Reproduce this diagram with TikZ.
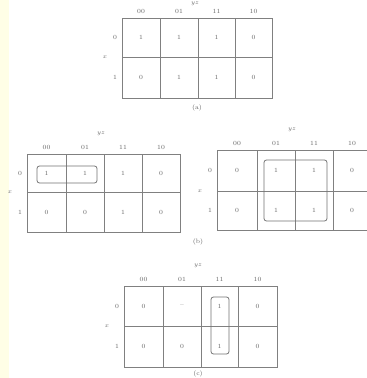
\documentclass[tikz,border=0pt]{standalone}
\begin{document}
\begin{tikzpicture}[x=1pt,y=-1pt,
  grid/.style={draw=black!50,line width=0.8pt},
  lbl/.style={text=black!60,font=\fontsize{6.3}{7}\selectfont,inner sep=0pt},
  loop/.style={draw=black!55,line width=0.8pt,rounded corners=2.5pt}]
\fill[white] (0,0) rectangle (367,378);
\fill[yellow!10] (0,0) rectangle (9,378);
\clip (0,0) rectangle (367,378);
\def\yzoff{20}
\newcommand{\kmap}[9]{%
  % #1..#5 x lines, #6 top, #7 mid, #8 bottom, #9 name
  \draw[grid] (#1,#6) rectangle (#5,#8);
  \draw[grid] (#1,#7) -- (#5,#7);
  \draw[grid] (#2,#6) -- (#2,#8);
  \draw[grid] (#3,#6) -- (#3,#8);
  \draw[grid] (#4,#6) -- (#4,#8);
  \node[lbl] (#9h0) at ({(#1+#2)/2},#6-7) {00};
  \node[lbl] (#9h1) at ({(#2+#3)/2},#6-7) {01};
  \node[lbl] (#9h2) at ({(#3+#4)/2},#6-7) {11};
  \node[lbl] (#9h3) at ({(#4+#5)/2},#6-7) {10};
  \node[lbl] (#9yz) at (#3-3,#6-\yzoff) {$yz$};
  \node[lbl] (#9r0) at (#1-7,{(#6+#7)/2}) {0};
  \node[lbl] (#9r1) at (#1-7,{(#7+#8)/2}) {1};
  \node[lbl] (#9x) at (#1-17,#7) {$x$};
}
\newcommand{\kvals}[9]{%
  \foreach \v [count=\i from 0] in {#9} {%
    \pgfmathtruncatemacro{\c}{mod(\i,4)}%
    \pgfmathtruncatemacro{\r}{int(\i/4)}%
    \pgfmathsetmacro{\xa}{{#1,#2,#3,#4,#5}[\c]}%
    \pgfmathsetmacro{\xb}{{#1,#2,#3,#4,#5}[\c+1]}%
    \pgfmathsetmacro{\ya}{{#6,#7,#8}[\r]}%
    \pgfmathsetmacro{\yb}{{#6,#7,#8}[\r+1]}%
    \node[lbl] at ({(\xa+\xb)/2},{(\ya+\yb)/2}) {\v};
  }%
}
% (a)
\def\yzoff{14}
\kmap{122}{160}{198}{235}{272}{18}{57}{98}{a}
\kvals{122}{160}{198}{235}{272}{18}{57}{98}{1,1,1,0,0,1,1,0}
\node[lbl] (capa) at (197,108) {(a)};
\def\yzoff{20}
% (b) left
\kmap{27}{66}{104}{142}{180}{154}{192}{232}{bl}
\kvals{27}{66}{104}{142}{180}{154}{192}{232}{1,1,1,0,0,0,1,0}
\draw[loop] (37,166) rectangle (97,183);
% (b) right
\kmap{217}{257}{295}{333}{371}{150}{191}{230}{br}
\kvals{217}{257}{295}{333}{371}{150}{191}{230}{0,1,1,0,0,1,1,0}
\draw[loop] (264,160) rectangle (327,221);
\node[lbl] (capb) at (198,242) {(b)};
% (c)
\kmap{124}{163}{201}{238}{277}{286}{326}{367}{c}
\kvals{124}{163}{201}{238}{277}{286}{326}{367}{0,--,1,0,0,0,1,0}
\draw[loop] (211,297) rectangle (229,354);
\node[lbl] (capc) at (198,374) {(c)};
\end{tikzpicture}
\end{document}
